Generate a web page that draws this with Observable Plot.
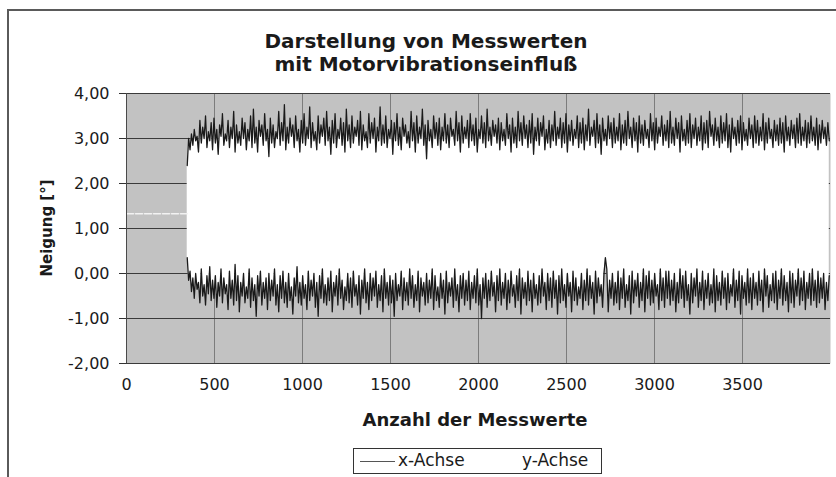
<!DOCTYPE html>
<html>
<head>
<meta charset="utf-8">
<script src="https://cdn.jsdelivr.net/npm/d3@7"></script>
<script src="https://cdn.jsdelivr.net/npm/@observablehq/plot@0.6"></script>
<style>
  html, body { margin: 0; padding: 0; background: #fff; }
  #wrap { position: relative; width: 836px; height: 477px; overflow: hidden; font-family: "DejaVu Sans", Verdana, sans-serif; color: #1a1a1a; }
  #frame { position: absolute; left: 7px; top: 9px; width: 900px; height: 500px; border-left: 2px solid #5a5a5a; border-top: 2px solid #5a5a5a; }
  #title { position: absolute; left: 126px; width: 600px; top: 30px; text-align: center; font-weight: bold; font-size: 20px; line-height: 23px; }
  #ytitle { position: absolute; left: 47px; top: 228px; transform: translate(-50%, -50%) rotate(-90deg); font-weight: bold; font-size: 15px; white-space: nowrap; }
  #xtitle { position: absolute; left: 175px; width: 600px; top: 409px; text-align: center; font-weight: bold; font-size: 18px; }
  #legend { position: absolute; left: 353px; top: 448px; width: 247px; height: 24px; border: 1px solid #333; background: #fff; font-size: 17px; }
  #legend .sw { position: absolute; top: 12px; width: 35px; height: 0; border-top: 1.5px solid #555; }
  #legend .lb { position: absolute; top: 1px; }
  #chart { position: absolute; left: 0; top: 0; }
</style>
</head>
<body>
<div id="wrap">
  <div id="frame"></div>
  <div id="chart"></div>
  <div id="title">Darstellung von Messwerten<br>mit Motorvibrationseinfluß</div>
  <div id="ytitle">Neigung [°]</div>
  <div id="xtitle">Anzahl der Messwerte</div>
  <div id="legend">
    <div class="sw" style="left:6px"></div><div class="lb" style="left:44px">x-Achse</div>
    <div class="sw" style="left:132px;border-top-color:#fff"></div><div class="lb" style="left:168px">y-Achse</div>
  </div>
</div>
<script>
// ---- data ----
const seriesNames = ["x-Achse", "y-Achse"];
const xTicks = [0, 500, 1000, 1500, 2000, 2500, 3000, 3500];
const yTicks = [-2, -1, 0, 1, 2, 3, 4];
const motorStart = 345;       // sample index where vibration begins
const sampleStep = 8;         // samples between read-off values
const restLevel = 1.33;       // inclination before the motor starts
// upper noisy band (one value every 8 samples from the motor start)
const upperBand = [
2.40,3.00,2.75,3.10,2.85,3.20,2.95,3.05,2.70,3.40,2.90,3.25,3.00,3.50,2.80,3.15,2.95,3.35,2.75,3.45,
2.90,3.20,2.65,3.30,3.05,3.55,2.85,3.10,2.95,3.40,2.80,3.25,3.00,3.60,2.70,3.30,2.90,3.15,2.85,3.45,
3.00,3.35,2.75,3.20,2.95,3.50,2.80,3.65,2.90,3.25,2.70,3.40,3.05,3.30,2.85,3.55,2.95,3.20,2.60,3.45,
2.90,3.30,2.80,3.15,3.00,3.60,2.85,3.35,2.95,3.75,2.75,3.25,2.90,3.45,3.05,3.30,2.80,3.50,2.95,3.20,
2.70,3.40,2.90,3.55,2.85,3.25,3.00,3.70,2.80,3.35,2.95,3.15,2.75,3.50,2.90,3.30,3.05,3.45,2.85,3.60,
2.95,3.25,2.65,3.40,2.90,3.55,2.80,3.20,3.00,3.45,2.85,3.35,2.70,3.65,2.95,3.30,2.80,3.50,2.90,3.25,
3.05,3.40,2.85,3.60,2.75,3.30,2.95,3.15,2.80,3.55,2.90,3.35,3.00,3.45,2.70,3.25,2.95,3.70,2.85,3.30,
2.90,3.50,2.80,3.20,3.00,3.40,2.65,3.35,2.95,3.55,2.85,3.25,2.75,3.45,3.05,3.30,2.90,3.15,2.80,3.60,
2.95,3.35,2.70,3.50,2.90,3.25,3.00,3.65,2.85,3.30,2.55,3.40,2.95,3.20,2.80,3.50,3.00,3.35,2.85,3.45,
2.75,3.25,2.95,3.55,2.90,3.30,2.80,3.45,3.05,3.20,2.85,3.60,2.95,3.35,2.70,3.50,2.90,3.25,3.00,3.40,
2.80,3.55,2.95,3.30,2.85,3.45,2.70,3.20,3.00,3.50,2.90,3.35,2.80,3.65,2.95,3.25,2.85,3.40,3.05,3.30,
2.90,3.45,2.75,3.35,2.95,3.20,2.85,3.55,3.00,3.30,2.70,3.45,2.90,3.25,2.80,3.60,2.95,3.35,2.85,3.50,
3.00,3.30,2.80,3.40,2.90,3.55,2.65,3.25,2.95,3.45,2.85,3.35,3.05,3.50,2.75,3.20,2.90,3.40,2.80,3.30,
2.95,3.60,2.85,3.25,3.00,3.45,2.80,3.35,2.90,3.55,2.70,3.30,2.95,3.40,2.85,3.20,3.00,3.50,2.80,3.35,
2.90,3.45,2.75,3.30,2.95,3.65,2.85,3.25,3.05,3.40,2.80,3.55,2.90,3.30,2.65,3.45,2.95,3.20,2.85,3.50,
3.00,3.35,2.80,3.45,2.90,3.25,2.95,3.55,2.75,3.30,2.90,3.40,2.85,3.60,3.00,3.25,2.80,3.45,2.95,3.35,
2.70,3.50,2.90,3.30,2.85,3.40,3.00,3.20,2.80,3.55,2.95,3.35,2.75,3.45,2.90,3.25,3.05,3.50,2.85,3.30,
2.95,3.40,2.80,3.60,2.90,3.25,2.85,3.45,3.00,3.35,2.70,3.50,2.95,3.20,2.85,3.40,2.90,3.55,2.80,3.30,
3.00,3.45,2.85,3.25,2.95,3.50,2.75,3.35,2.90,3.40,2.80,3.60,3.05,3.30,2.85,3.45,2.95,3.25,2.80,3.50,
2.90,3.35,2.95,3.55,2.80,3.30,2.70,3.45,3.00,3.25,2.85,3.40,2.90,3.50,2.75,3.35,2.95,3.20,2.85,3.45,
3.00,3.30,2.80,3.50,2.90,3.40,2.85,3.25,2.95,3.55,2.75,3.35,2.90,3.45,3.00,3.20,2.80,3.40,2.95,3.30,
2.85,3.45,2.90,3.35,2.70,3.50,2.95,3.25,2.85,3.40,3.00,3.30,2.80,3.45,2.90,3.55,2.85,3.25,2.95,3.40,
2.80,3.35,2.90,3.50,2.95,3.25,2.85,3.45,2.75,3.30,2.90,3.40,3.00,3.25,2.85,3.35,2.95];
// lower noisy band
const lowerBand = [
0.35,-0.15,0.05,-0.40,-0.10,-0.55,0.00,-0.35,-0.20,-0.65,0.10,-0.50,-0.25,-0.70,-0.05,-0.45,0.15,-0.60,-0.15,-0.55,
-0.05,-0.75,-0.20,-0.50,0.10,-0.65,-0.10,-0.45,-0.25,-0.80,0.05,-0.55,-0.15,-0.70,0.20,-0.60,-0.05,-0.85,-0.20,-0.50,
0.00,-0.65,-0.30,-0.55,0.10,-0.75,-0.10,-0.60,-0.25,-0.95,-0.05,-0.50,0.05,-0.70,-0.20,-0.55,-0.10,-0.80,0.00,-0.60,
-0.15,-0.50,0.10,-0.70,-0.25,-0.85,-0.05,-0.55,0.05,-0.65,-0.20,-0.75,0.00,-0.60,-0.30,-0.90,-0.10,-0.50,0.15,-0.65,
-0.20,-0.70,-0.05,-0.55,-0.25,-0.80,0.05,-0.60,-0.15,-0.50,0.00,-0.75,-0.20,-0.95,-0.05,-0.55,0.10,-0.65,-0.25,-0.70,
-0.10,-0.60,0.05,-0.85,-0.20,-0.50,-0.05,-0.70,0.10,-0.55,-0.15,-0.80,-0.30,-0.60,0.00,-0.65,-0.10,-0.75,0.05,-0.50,
-0.25,-0.70,-0.05,-0.90,-0.15,-0.55,0.10,-0.65,-0.20,-0.80,0.00,-0.60,-0.10,-0.50,0.05,-0.75,-0.25,-0.60,-0.05,-0.85,
0.10,-0.55,-0.20,-0.70,-0.05,-0.65,-0.15,-0.95,0.00,-0.60,-0.25,-0.50,0.05,-0.80,-0.10,-0.60,-0.20,-0.70,0.10,-0.55,
-0.05,-0.75,-0.25,-0.60,0.05,-0.85,-0.10,-0.50,-0.20,-0.70,0.00,-0.65,-0.15,-0.55,0.10,-0.80,-0.05,-0.60,-0.30,-0.75,
0.00,-0.55,-0.15,-0.90,0.05,-0.65,-0.20,-0.50,-0.10,-0.75,0.10,-0.60,-0.25,-0.85,-0.05,-0.55,0.00,-0.70,-0.15,-0.60,
0.05,-0.80,-0.20,-0.55,-0.05,-0.65,0.10,-0.70,-0.25,-1.00,-0.10,-0.55,0.00,-0.75,-0.15,-0.60,0.05,-0.50,-0.20,-0.85,
-0.05,-0.60,0.10,-0.70,-0.20,-0.55,0.00,-0.80,-0.15,-0.65,0.05,-0.50,-0.25,-0.75,-0.05,-0.60,0.10,-0.90,-0.10,-0.55,
-0.20,-0.70,0.05,-0.60,-0.15,-0.85,0.00,-0.55,-0.25,-0.70,-0.05,-0.65,0.10,-0.50,-0.20,-0.80,0.00,-0.60,-0.10,-0.75,
0.05,-0.55,-0.15,-0.90,-0.05,-0.65,0.10,-0.60,-0.25,-0.75,0.00,-0.50,-0.20,-0.85,0.05,-0.60,-0.10,-0.70,-0.30,-0.55,
0.00,-0.80,-0.15,-0.60,0.10,-0.70,-0.05,-0.55,-0.20,-0.90,0.05,-0.65,-0.10,-0.50,-0.25,-0.75,0.00,0.35,0.10,-0.85,
-0.15,-0.55,0.00,-0.70,-0.20,-0.65,0.05,-0.80,-0.10,-0.55,0.10,-0.75,-0.25,-0.60,-0.05,-0.90,0.05,-0.65,-0.15,-0.50,
0.00,-0.75,-0.20,-0.60,0.10,-0.85,-0.05,-0.55,0.05,-0.70,-0.15,-0.65,0.00,-0.50,-0.25,-0.80,0.10,-0.60,-0.10,-0.75,
0.05,-0.55,0.05,-0.70,-0.15,-0.60,0.00,-0.85,-0.20,-0.65,0.10,-0.55,-0.05,-0.75,0.05,-0.60,-0.25,-0.90,0.00,-0.65,
-0.10,-0.50,0.10,-0.75,-0.20,-0.60,0.05,-0.80,-0.15,-0.55,0.00,-0.70,-0.25,-0.65,0.10,-0.85,-0.05,-0.60,-0.20,-0.70,
0.05,-0.55,-0.10,-0.80,0.00,-0.65,-0.25,-0.50,0.10,-0.75,-0.15,-0.60,0.05,-0.90,-0.05,-0.55,-0.20,-0.70,0.10,-0.65,
-0.10,-0.80,0.00,-0.55,-0.20,-0.70,0.05,-0.60,-0.15,-0.85,0.10,-0.50,-0.05,-0.75,-0.25,-0.60,0.00,-0.65,0.05,-0.80,
-0.15,-0.55,0.10,-0.70,-0.05,-0.60,-0.20,-0.85,0.05,-0.65,0.00,-0.75,-0.15,-0.50,0.10,-0.70,-0.10,-0.60,0.05,-0.80,
-0.20,-0.55,0.00,-0.70,0.10,-0.60,-0.15,-0.75,0.05,-0.65,-0.10,-0.55,0.00,-0.80,-0.20,-0.60,-0.05];

// ---- build table ----
const band = upperBand.map((hi, i) => ({x: motorStart + i * sampleStep, hi, lo: lowerBand[i]}));
const rest = [{x: 0, y: restLevel}, {x: motorStart, y: restLevel}];
const fmt = d => d.toFixed(2).replace(".", ",");

const chart = Plot.plot({
  width: 836,
  height: 477,
  marginLeft: 126,
  marginRight: 6,
  marginTop: 93,
  marginBottom: 114,
  style: {fontFamily: "DejaVu Sans, Verdana, sans-serif", fontSize: "16px", color: "#1a1a1a", background: "transparent", overflow: "visible"},
  x: {domain: [0, 4000]},
  y: {domain: [-2, 4]},
  marks: [
    Plot.frame({fill: "#c2c2c2", stroke: null}),
    Plot.ruleX(xTicks.slice(1), {stroke: "#7c7c7c", strokeWidth: 1}),
    Plot.ruleY(yTicks, {stroke: "#3a3a3a", strokeWidth: 1}),
    Plot.areaY(band, {x: "x", y1: "lo", y2: "hi", fill: "#ffffff"}),
    Plot.lineY(rest, {x: "x", y: "y", stroke: "#f2f2f2", strokeWidth: 1.5, strokeDasharray: "7,2"}),
    Plot.lineY(band, {x: "x", y: "hi", stroke: "#1a1a1a", strokeWidth: 1.3}),
    Plot.lineY(band, {x: "x", y: "lo", stroke: "#1a1a1a", strokeWidth: 1.3}),
    Plot.ruleX([0], {stroke: "#4a4a4a", strokeWidth: 1}),
    Plot.axisY({ticks: yTicks, tickFormat: fmt, tickSize: 7, tickPadding: 10, fontSize: 16, label: null, stroke: "#333"}),
    Plot.axisX({ticks: xTicks, tickFormat: d => String(d), tickSize: 0, tickPadding: 15, fontSize: 16, label: null})
  ]
});
document.getElementById("chart").appendChild(chart);
</script>
</body>
</html>
